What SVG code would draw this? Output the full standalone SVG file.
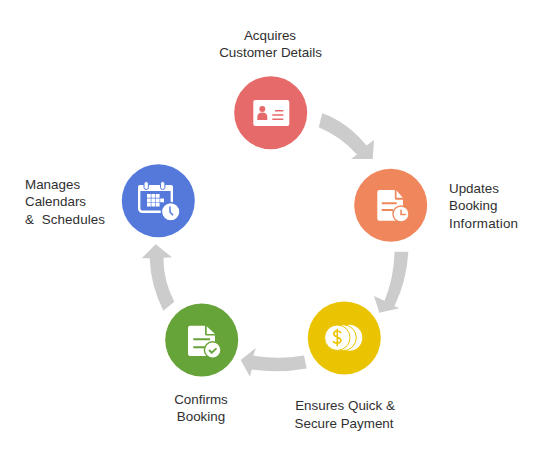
<svg xmlns="http://www.w3.org/2000/svg" width="542" height="460" viewBox="0 0 542 460">
<style>
text{font-family:"Liberation Sans",Arial,sans-serif;font-size:13.4px;fill:#303030;text-anchor:middle}
.s{text-anchor:start}
.arrow{fill:#cccccc}
.w{fill:#fff}
</style>
<rect width="542" height="460" fill="#fff"/>
<g id="connectors">
<path class="arrow" d="M322.300 113.300Q347 122 366.500 145.500L374 140L372.700 159L351 159L357 154.500Q341 136.500 318.700 127.200Z"/>
<path class="arrow" d="M394.500 251.700L408.300 251.700Q407 280 394.500 306L399.300 308.300L379.300 312.700L374 296L384.500 300.700Q394 278 394.500 251.700Z"/>
<path class="arrow" d="M304 355.500L306.700 368.500Q278 373.500 251.700 369.500L250 376.700L240.700 360L256 347.700L253.300 355.500Q278 360 304 355.500Z"/>
<path class="arrow" d="M174.300 301.700L163.300 310.700Q150.500 285 149.700 258.300L141.700 258.300L155.700 244.300L172 257.300L163.500 257.700Q163 280 174.300 301.700Z"/>
</g>
<g id="node-acquires">
<circle cx="270.700" cy="112.700" r="36.500" fill="#e66a6a"/>
<rect x="253.300" y="100" width="36" height="26" rx="2" class="w"/>
<circle cx="262.300" cy="109" r="3" fill="#e66a6a"/>
<path d="M257.300 120v-3q0-4.500 5-4.500t5 4.500v3z" fill="#e66a6a"/>
<path d="M275 110.700h8.300M272.300 115h11M272.300 119.300h11" stroke="#e66a6a" stroke-width="1.600" fill="none"/>
<text x="270" y="40">Acquires</text>
<text x="270.500" y="57">Customer Details</text>
</g>
<g id="node-updates">
<circle cx="390.700" cy="205.300" r="36.500" fill="#f0875c"/>
<path d="M379.300 190h15.500v8.300a1.500 1.500 0 0 0 1.500 1.500h6.700v20.900h-23.700a2 2 0 0 1-2-2v-26.700a2 2 0 0 1 2-2z" class="w"/>
<path d="M396.500 190.500l6.300 7.300h-6.300z" class="w"/>
<path d="M381.700 203.300h15M381.700 210h11.300" stroke="#f0875c" stroke-width="2"/>
<circle cx="401" cy="214" r="8" class="w" stroke="#f0875c" stroke-width="1.400"/>
<path d="M401 209.500v5h4.800" stroke="#f0875c" stroke-width="1.500" fill="none"/>
<text class="s" x="449" y="193">Updates</text>
<text class="s" x="449" y="210">Booking</text>
<text class="s" x="449" y="228" textLength="69">Information</text>
</g>
<g id="node-payment">
<circle cx="344.300" cy="338" r="36.500" fill="#eac400"/>
<circle cx="349.300" cy="337.700" r="13" class="w"/>
<circle cx="343.300" cy="337.700" r="13" class="w" stroke="#eac400" stroke-width="1"/>
<circle cx="337.300" cy="337.700" r="12.700" class="w" stroke="#eac400" stroke-width="1"/>
<path d="M341 333q-1.300-2.200-3.800-2.200t-3.500 2.500q0 2.500 3.500 3.700t3.800 3.500q-.4 2.700-3.800 2.700t-4-2.200M337.300 328.800v17.500" stroke="#eac400" stroke-width="1.600" fill="none"/>
<text x="345" y="410">Ensures Quick &amp;</text>
<text x="344" y="428">Secure Payment</text>
</g>
<g id="node-confirms">
<circle cx="201.700" cy="340" r="36.500" fill="#66a338"/>
<path d="M190 325.700h15v8.300a1.500 1.500 0 0 0 1.500 1.500h8.500v20.500h-25a2 2 0 0 1-2-2v-26.300a2 2 0 0 1 2-2z" class="w"/>
<path d="M206.700 326.200l8.300 7.800h-8.300z" class="w"/>
<path d="M193.300 339.300h16.700M193.300 347.300h12" stroke="#66a338" stroke-width="2"/>
<circle cx="212.700" cy="350" r="8.300" class="w" stroke="#66a338" stroke-width="1.400"/>
<path d="M209 350l2.700 2.700 4.800-4.400" stroke="#66a338" stroke-width="1.800" fill="none"/>
<text x="201" y="404">Confirms</text>
<text x="201" y="421">Booking</text>
</g>
<g id="node-manages">
<circle cx="158.300" cy="200.700" r="36.500" fill="#5479db"/>
<rect x="139.200" y="186.200" width="32.600" height="25.600" rx="3" fill="none" stroke="#fff" stroke-width="2.400"/>
<rect x="138" y="185" width="35" height="6" rx="2" class="w"/>
<rect x="144" y="181.500" width="4.400" height="8" rx="2.200" class="w" stroke="#5479db"/>
<rect x="160.500" y="181.500" width="4.400" height="8" rx="2.200" class="w" stroke="#5479db"/>
<path d="M147 194h3.800v3.800h-3.800zM151.400 194h3.800v3.800h-3.800zM155.800 194h3.800v3.800h-3.800zM147 198.400h3.800v3.800h-3.800zM151.400 198.400h3.800v3.800h-3.800zM155.800 198.400h3.800v3.800h-3.800zM160.200 198.400h3.800v3.800h-3.800zM147 202.800h3.800v3.800h-3.800zM151.400 202.800h3.800v3.800h-3.800zM155.800 202.800h3.800v3.800h-3.800z" class="w"/>
<circle cx="170.700" cy="211.700" r="9.300" class="w" stroke="#5479db" stroke-width="1.500"/>
<path d="M170 206.500v5.500l3 3.300" stroke="#5479db" stroke-width="1.500" fill="none"/>
<text class="s" x="25" y="189">Manages</text>
<text class="s" x="25" y="206">Calendars</text>
<text class="s" x="25" y="224" xml:space="preserve" textLength="80">&amp;  Schedules</text>
</g>
</svg>
